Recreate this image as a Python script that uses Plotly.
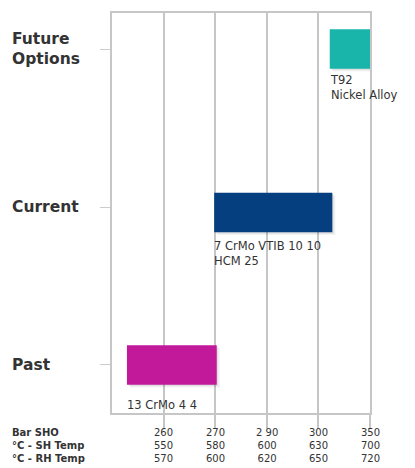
import plotly.graph_objects as go

# Data
categories = ["Past", "Current", "Future Options"]
cat_labels = ["Past", "Current", "Future<br>Options"]
bar_start = [0.29, 1.98, 4.22]     # position on scale (tick index units)
bar_end = [2.03, 4.27, 5.02]
bar_colors = ["#c2199b", "#063f80", "#19b5ab"]
bar_text = ["13 CrMo 4 4", "7 CrMo VTIB 10 10<br>HCM 25", "T92<br>Nickel Alloy"]
tick_pos = [1, 2, 3, 4, 5]
bar_sho = ["260", "270", "2 90", "300", "350"]
sh_temp = ["550", "580", "600", "630", "700"]
rh_temp = ["570", "600", "620", "650", "720"]
row_titles = ["Bar SHO", "°C - SH Temp", "°C - RH Temp"]

FONT = "DejaVu Sans"
W, H = 415, 468
L, R, T, B = 112, 45, 13, 55
bar_offsets = [-0.125, -0.16, -0.125]
text_gap = [-31, -30, -22]
LABEL_TOP_PX = 425
label_y = -(LABEL_TOP_PX - (H - B)) / (H - T - B)

fig = go.Figure()
for c, s, e, col, off in zip(categories, bar_start, bar_end, bar_colors, bar_offsets):
    # soft shadow
    for k, a in [(0.06, 0.05), (0.03, 0.07)]:
        fig.add_trace(go.Bar(y=[c], x=[e - s], base=[s + k], orientation="h",
                             marker=dict(color=f"rgba(0,0,0,{a})", line=dict(width=0)),
                             width=0.25, offset=off - k * 0.3, hoverinfo="skip", showlegend=False))
    fig.add_trace(go.Bar(y=[c], x=[e - s], base=[s], orientation="h",
                         marker=dict(color=col, line=dict(width=0)),
                         width=0.25, offset=off, showlegend=False))

fig.update_layout(
    width=W, height=H,
    margin=dict(l=L, r=R, t=T, b=B),
    plot_bgcolor="white", paper_bgcolor="white",
    barmode="overlay",
    font=dict(family=FONT, color="#333333"),
    xaxis=dict(range=[0, 5], tickvals=tick_pos, showticklabels=False, automargin=False,
               showgrid=True, gridcolor="#c6c6c6", gridwidth=2,
               showline=True, linecolor="#c6c6c6", linewidth=2, mirror=True,
               ticks="outside", ticklen=14, tickcolor="#c6c6c6", tickwidth=2,
               zeroline=False, fixedrange=True),
    yaxis=dict(type="category", categoryorder="array", categoryarray=categories,
               range=[-0.304, 2.228], showticklabels=False, automargin=False,
               showline=True, linecolor="#c6c6c6", linewidth=2, mirror=True,
               ticks="outside", ticklen=10, tickcolor="#cccccc", tickwidth=1,
               showgrid=False, zeroline=False, fixedrange=True),
)

# Category labels on the left
for c, lab in zip(categories, cat_labels):
    fig.add_annotation(x=(10 - L) / (W - L - R), xref="paper", y=c, yref="y",
                       text=f"<b>{lab}</b>", showarrow=False, xanchor="left",
                       align="left", font=dict(size=15.5, color="#333333", family=FONT))

# Bar text labels
for c, s, t, g in zip(categories, bar_start, bar_text, text_gap):
    fig.add_annotation(x=s, y=c, text=t, showarrow=False, xanchor="left", yanchor="top",
                       align="left", yshift=g, xshift=-2,
                       font=dict(size=11.5, color="#333333", family=FONT))

# Tick value columns (three rows per tick)
for p, a, b, c in zip(tick_pos, bar_sho, sh_temp, rh_temp):
    fig.add_annotation(x=p, xref="x", y=label_y, yref="paper",
                       text=f"{a}<br>{b}<br>{c}", showarrow=False,
                       xanchor="center", yanchor="top", align="center",
                       font=dict(size=10, color="#333333", family=FONT))

# Row titles at bottom
fig.add_annotation(x=(10 - L) / (W - L - R), xref="paper", y=label_y,
                   yref="paper", text="<br>".join(f"<b>{r}</b>" for r in row_titles),
                   showarrow=False, xanchor="left", yanchor="top", align="left",
                   font=dict(size=10, color="#333333", family=FONT))

fig.write_html("out.html", config={"displayModeBar": False},
               post_script="document.body.style.margin='0';")
